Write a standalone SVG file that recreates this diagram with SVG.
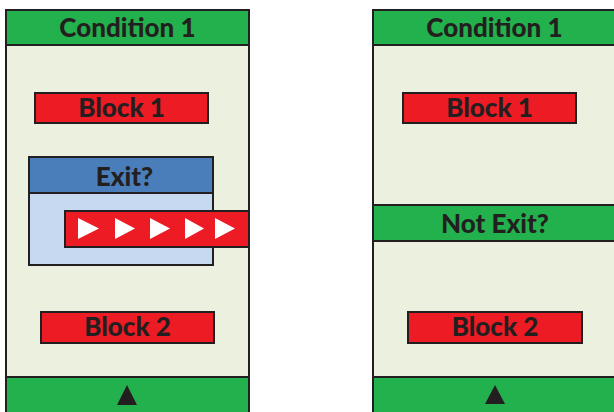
<svg xmlns="http://www.w3.org/2000/svg" width="614" height="412" viewBox="0 0 614 412">
  <style>
    .frame { fill: #EBF1DE; stroke: #231F20; stroke-width: 2; }
    .bar { fill: #22B14C; stroke: #231F20; stroke-width: 2; }
    .block { fill: #ED1C24; stroke: #231F20; stroke-width: 2; }
    .exithead { fill: #4A7EBB; stroke: #231F20; stroke-width: 2; }
    .exitbody { fill: #C6D9F1; stroke: #231F20; stroke-width: 2; }
    .lbl { font-family: Lato, "Open Sans", "Liberation Sans", sans-serif; font-weight: 900; font-size: 26px; fill: #231F20; text-anchor: middle; }
    .mark { fill: #231F20; }
    .chev { fill: #FFFFFF; }
  </style>
  <rect width="614" height="412" fill="#FFFFFF"/>

  <!-- Left loop: exit test inside the body -->
  <g id="left-loop">
    <rect class="frame" x="6" y="10" width="243" height="410"/>
  </g>
  <g id="left-condition">
    <rect class="bar" x="6" y="10" width="243" height="35"/>
    <text class="lbl" x="127.5" y="37">Condition 1</text>
  </g>
  <g id="left-block1">
    <rect class="block" x="35" y="93" width="173" height="30"/>
    <text class="lbl" x="121.5" y="117">Block 1</text>
  </g>
  <g id="left-exit">
    <rect class="exitbody" x="29" y="157" width="184" height="108"/>
    <rect class="exithead" x="29" y="157" width="184" height="36"/>
    <text class="lbl" x="124.5" y="186">Exit?</text>
  </g>
  <g id="left-jump">
    <rect class="block" x="65" y="211" width="184" height="36"/>
    <polygon class="chev" points="78,218 99,228.5 78,239"/>
    <polygon class="chev" points="115,218 135,228.5 115,239"/>
    <polygon class="chev" points="150,218 170,228.5 150,239"/>
    <polygon class="chev" points="185,218 204,228.5 185,239"/>
    <polygon class="chev" points="215,218 235,228.5 215,239"/>
  </g>
  <g id="left-block2">
    <rect class="block" x="41" y="312" width="173" height="31"/>
    <text class="lbl" x="127.5" y="336">Block 2</text>
  </g>
  <g id="left-end">
    <rect class="bar" x="6" y="377" width="243" height="43"/>
    <polygon class="mark" points="127,385 137,405 117,405"/>
  </g>

  <!-- Right loop: continuation test splits the body -->
  <g id="right-loop">
    <rect class="frame" x="373" y="10" width="243" height="410"/>
  </g>
  <g id="right-condition">
    <rect class="bar" x="373" y="10" width="243" height="35"/>
    <text class="lbl" x="494.5" y="37">Condition 1</text>
  </g>
  <g id="right-block1">
    <rect class="block" x="403" y="93" width="173" height="30"/>
    <text class="lbl" x="489.5" y="117">Block 1</text>
  </g>
  <g id="right-notexit">
    <rect class="bar" x="373" y="205" width="243" height="36"/>
    <text class="lbl" x="495" y="233">Not Exit?</text>
  </g>
  <g id="right-block2">
    <rect class="block" x="408" y="312" width="174" height="31"/>
    <text class="lbl" x="495" y="336">Block 2</text>
  </g>
  <g id="right-end">
    <rect class="bar" x="373" y="377" width="243" height="43"/>
    <polygon class="mark" points="495,385 505,404 485,404"/>
  </g>

  <g id="connectors"/>
</svg>
